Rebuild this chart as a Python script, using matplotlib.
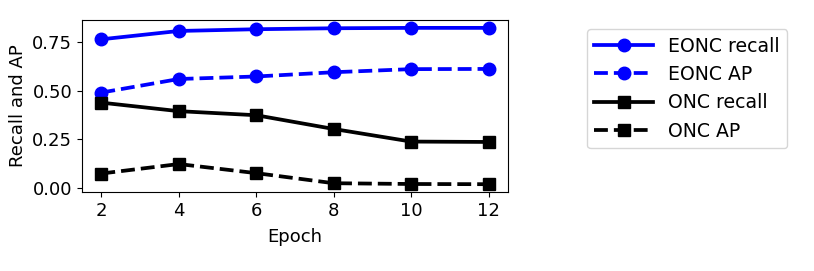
import numpy as np
import matplotlib
matplotlib.use("Agg")
import matplotlib.pyplot as plt

epochs = [2, 4, 6, 8, 10, 12]
eonc_recall = [0.766, 0.809, 0.818, 0.823, 0.825, 0.825]
eonc_ap = [0.491, 0.561, 0.574, 0.596, 0.612, 0.613]
onc_recall = [0.439, 0.395, 0.374, 0.303, 0.238, 0.236]
onc_ap = [0.073, 0.122, 0.075, 0.023, 0.019, 0.018]

plt.rcParams["font.size"] = 13

fig = plt.figure(figsize=(8.14, 2.71), dpi=100)
ax = fig.add_axes([0.1007, 0.2915, 0.5233, 0.6345])

ax.plot(epochs, eonc_recall, "b-", marker="o", lw=2.7, ms=9, label="EONC recall")
ax.plot(epochs, eonc_ap, "b--", marker="o", lw=2.7, ms=9, label="EONC AP")
ax.plot(epochs, onc_recall, "k-", marker="s", lw=2.7, ms=9, label="ONC recall")
ax.plot(epochs, onc_ap, "k--", marker="s", lw=2.7, ms=9, label="ONC AP")

ax.set_xticks(epochs)
ax.set_yticks([0.0, 0.25, 0.5, 0.75])
ax.set_xlabel("Epoch", labelpad=6)
ax.set_ylabel("Recall and AP")
fig.legend(loc="upper left", bbox_to_anchor=(0.721, 0.893), borderaxespad=0,
           fontsize=13.6, handlelength=3.1, handletextpad=0.8)

plt.savefig("out.png")
